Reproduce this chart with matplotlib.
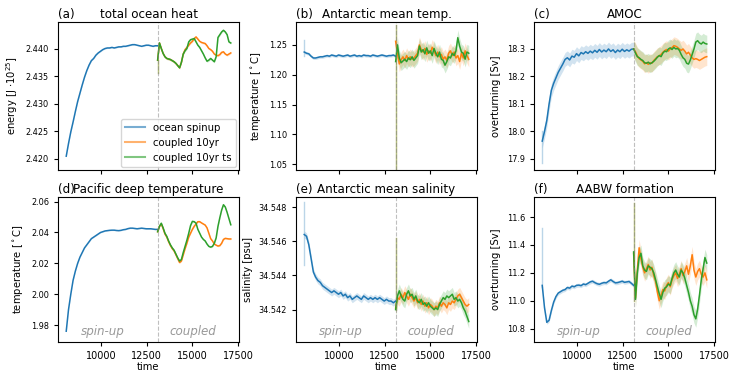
import numpy as np
import matplotlib
matplotlib.use("Agg")
import matplotlib.pyplot as plt
from matplotlib.lines import Line2D
import matplotlib.transforms as mtransforms

# spin-up runs from 8100 to 13100, coupled runs from 13100 to 17100
spin_start, spin_end = 8100, 13100
coup_start, coup_end = 13100, 17100

# (a) total ocean heat [J 1e25]
heat_spin = [2.4205, 2.4228, 2.4249, 2.4267, 2.4286, 2.4304, 2.4319, 2.4334, 2.4348, 2.4360,
             2.4370, 2.4378, 2.4382, 2.4388, 2.4392, 2.4395, 2.4398, 2.4400, 2.4401, 2.4401,
             2.4402, 2.4401, 2.4402, 2.4403, 2.4403, 2.4404, 2.4404, 2.4405, 2.4406, 2.4407,
             2.4407, 2.4406, 2.4405, 2.4404, 2.4405, 2.4406, 2.4406, 2.4405, 2.4404, 2.4405, 2.4405]
heat_10yr = [2.4379, 2.4410, 2.4400, 2.4391, 2.4385, 2.4382, 2.4381, 2.4380, 2.4378, 2.4376,
             2.4373, 2.4369, 2.4365, 2.4375, 2.4390, 2.4398, 2.4402, 2.4406, 2.4410, 2.4413,
             2.4418, 2.4421, 2.4417, 2.4413, 2.4411, 2.4410, 2.4409, 2.4405, 2.4400, 2.4398,
             2.4395, 2.4390, 2.4388, 2.4387, 2.4389, 2.4393, 2.4394, 2.4390, 2.4388, 2.4390, 2.4392]
heat_ts = [2.4379, 2.4410, 2.4400, 2.4391, 2.4385, 2.4382, 2.4381, 2.4380, 2.4378, 2.4376,
           2.4373, 2.4369, 2.4365, 2.4375, 2.4390, 2.4396, 2.4400, 2.4412, 2.4416, 2.4417,
           2.4418, 2.4412, 2.4406, 2.4402, 2.4396, 2.4390, 2.4383, 2.4377, 2.4379, 2.4382,
           2.4379, 2.4376, 2.4385, 2.4420, 2.4425, 2.4430, 2.4433, 2.4430, 2.4425, 2.4412, 2.4410]

# (b) Antarctic mean temperature [deg C]
atemp_spin = [1.238, 1.236, 1.235, 1.231, 1.228, 1.228, 1.229, 1.230, 1.230, 1.231,
              1.232, 1.231, 1.233, 1.232, 1.231, 1.233, 1.232, 1.231, 1.232, 1.233,
              1.231, 1.232, 1.233, 1.231, 1.232, 1.231, 1.233, 1.232, 1.232, 1.231,
              1.233, 1.232, 1.231, 1.232, 1.233, 1.232, 1.231, 1.232, 1.232, 1.233, 1.231]
atemp_10yr = [1.256, 1.235, 1.218, 1.225, 1.230, 1.224, 1.232, 1.226, 1.230, 1.226,
              1.228, 1.232, 1.236, 1.250, 1.242, 1.238, 1.244, 1.234, 1.240, 1.236,
              1.246, 1.240, 1.232, 1.238, 1.230, 1.234, 1.226, 1.230, 1.224, 1.236,
              1.240, 1.232, 1.238, 1.228, 1.232, 1.222, 1.236, 1.228, 1.240, 1.232, 1.226]
atemp_ts = [1.222, 1.250, 1.228, 1.220, 1.223, 1.226, 1.222, 1.228, 1.225, 1.230,
            1.224, 1.228, 1.232, 1.248, 1.238, 1.242, 1.235, 1.245, 1.236, 1.240,
            1.232, 1.244, 1.236, 1.230, 1.238, 1.226, 1.224, 1.216, 1.222, 1.230,
            1.228, 1.236, 1.232, 1.240, 1.262, 1.248, 1.238, 1.236, 1.226, 1.238, 1.236]

# (c) AMOC [Sv]
amoc_spin = [17.965, 18.000, 18.040, 18.100, 18.150, 18.175, 18.195, 18.215, 18.230, 18.245,
             18.262, 18.268, 18.260, 18.274, 18.270, 18.283, 18.275, 18.287, 18.282, 18.290,
             18.284, 18.292, 18.286, 18.295, 18.288, 18.298, 18.289, 18.296, 18.290, 18.300,
             18.291, 18.297, 18.287, 18.296, 18.290, 18.299, 18.291, 18.297, 18.292, 18.299, 18.300]
amoc_10yr = [18.300, 18.290, 18.275, 18.265, 18.260, 18.255, 18.246, 18.250, 18.244, 18.250,
             18.248, 18.258, 18.265, 18.272, 18.275, 18.280, 18.288, 18.294, 18.298, 18.292,
             18.300, 18.305, 18.312, 18.310, 18.306, 18.300, 18.295, 18.300, 18.292, 18.282,
             18.288, 18.278, 18.268, 18.262, 18.265, 18.262, 18.258, 18.262, 18.266, 18.270, 18.272]
amoc_ts = [18.300, 18.285, 18.272, 18.268, 18.262, 18.258, 18.250, 18.248, 18.252, 18.246,
           18.250, 18.255, 18.262, 18.270, 18.276, 18.272, 18.285, 18.292, 18.290, 18.300,
           18.304, 18.298, 18.306, 18.300, 18.302, 18.295, 18.280, 18.268, 18.262, 18.248,
           18.245, 18.260, 18.280, 18.300, 18.325, 18.330, 18.322, 18.318, 18.325, 18.320, 18.318]

# (d) Pacific deep temperature [deg C]
pac_spin = [1.976, 1.990, 2.000, 2.009, 2.015, 2.020, 2.024, 2.027, 2.030, 2.032,
            2.034, 2.036, 2.037, 2.038, 2.039, 2.040, 2.0405, 2.041, 2.0412, 2.0414,
            2.0415, 2.0415, 2.0413, 2.0412, 2.0414, 2.0418, 2.042, 2.0425, 2.0428, 2.0428,
            2.0426, 2.0424, 2.0426, 2.0428, 2.0426, 2.0424, 2.0424, 2.0424, 2.0422, 2.042, 2.042]
pac_10yr = [2.0405, 2.0440, 2.0455, 2.0425, 2.0390, 2.0370, 2.0340, 2.0315, 2.0295, 2.0280,
            2.0255, 2.0230, 2.0205, 2.0215, 2.0255, 2.0295, 2.0330, 2.0370, 2.0395, 2.0420,
            2.0440, 2.0455, 2.0470, 2.0470, 2.0462, 2.0455, 2.0448, 2.0430, 2.0395, 2.0360,
            2.0345, 2.0325, 2.0318, 2.0312, 2.0315, 2.0330, 2.0355, 2.0362, 2.0360, 2.0358, 2.0358]
pac_ts = [2.0405, 2.0440, 2.0460, 2.0430, 2.0395, 2.0375, 2.0345, 2.0320, 2.0300, 2.0285,
          2.0260, 2.0235, 2.0215, 2.0225, 2.0270, 2.0310, 2.0350, 2.0395, 2.0445, 2.0472,
          2.0470, 2.0460, 2.0420, 2.0395, 2.0370, 2.0355, 2.0345, 2.0325, 2.0310, 2.0305,
          2.0310, 2.0330, 2.0365, 2.0440, 2.0495, 2.0545, 2.0580, 2.0565, 2.0530, 2.0490, 2.0450]

# (e) Antarctic mean salinity [psu]
sal_spin = [34.5464, 34.5463, 34.5458, 34.5450, 34.5442, 34.5439, 34.5437, 34.5436, 34.5434, 34.5433,
            34.5432, 34.5431, 34.5430, 34.5431, 34.5430, 34.5429, 34.5430, 34.5428, 34.5429, 34.5427,
            34.5428, 34.5426, 34.5427, 34.5428, 34.5427, 34.5426, 34.5428, 34.5427, 34.5426, 34.5427,
            34.5426, 34.5427, 34.5426, 34.5427, 34.5426, 34.5425, 34.5426, 34.5425, 34.5425, 34.5424, 34.5425]
sal_10yr = [34.5421, 34.5427, 34.5426, 34.5429, 34.5427, 34.5430, 34.5428, 34.5426, 34.5429, 34.5427,
            34.5425, 34.5427, 34.5424, 34.5426, 34.5423, 34.5425, 34.5422, 34.5424, 34.5421, 34.5423,
            34.5422, 34.5420, 34.5422, 34.5421, 34.5424, 34.5422, 34.5424, 34.5423, 34.5421, 34.5424,
            34.5423, 34.5425, 34.5424, 34.5426, 34.5428, 34.5429, 34.5427, 34.5425, 34.5423, 34.5422, 34.5423]
sal_ts = [34.5420, 34.5428, 34.5431, 34.5428, 34.5426, 34.5425, 34.5429, 34.5431, 34.5428, 34.5429,
          34.5426, 34.5428, 34.5425, 34.5424, 34.5426, 34.5423, 34.5424, 34.5422, 34.5424, 34.5422,
          34.5421, 34.5420, 34.5421, 34.5420, 34.5423, 34.5425, 34.5427, 34.5426, 34.5428, 34.5427,
          34.5428, 34.5429, 34.5426, 34.5427, 34.5425, 34.5426, 34.5424, 34.5421, 34.5419, 34.5416, 34.5413]

# (f) AABW formation [Sv]
aabw_spin = [11.110, 10.950, 10.845, 10.860, 10.930, 10.990, 11.030, 11.055, 11.065, 11.075,
             11.080, 11.095, 11.090, 11.105, 11.100, 11.110, 11.112, 11.108, 11.120, 11.115,
             11.125, 11.135, 11.140, 11.130, 11.122, 11.118, 11.125, 11.130, 11.128, 11.140,
             11.150, 11.138, 11.128, 11.130, 11.135, 11.140, 11.132, 11.135, 11.138, 11.125, 11.110]
aabw_10yr = [11.340, 11.020, 11.220, 11.380, 11.300, 11.240, 11.200, 11.230, 11.260, 11.220,
             11.240, 11.180, 11.140, 11.060, 11.000, 11.040, 11.080, 11.070, 11.110, 11.130,
             11.100, 11.150, 11.180, 11.200, 11.160, 11.190, 11.230, 11.180, 11.210, 11.250,
             11.190, 11.250, 11.330, 11.220, 11.170, 11.210, 11.230, 11.190, 11.170, 11.200, 11.150]
aabw_ts = [11.350, 11.010, 11.200, 11.310, 11.340, 11.250, 11.220, 11.210, 11.250, 11.240,
           11.230, 11.200, 11.150, 11.100, 11.050, 11.010, 11.060, 11.090, 11.100, 11.120,
           11.110, 11.160, 11.200, 11.220, 11.190, 11.170, 11.220, 11.200, 11.160, 11.110,
           11.060, 11.000, 10.960, 10.900, 10.870, 10.940, 11.040, 11.150, 11.230, 11.310, 11.270]

# spread of the raw (unsmoothed) output around each curve: spinup, coupled
spread = {"a": (0.0001, 0.0002), "b": (0.0025, 0.013), "c": (0.025, 0.032),
          "d": (0.0003, 0.0005), "e": (0.0002, 0.0004), "f": (0.014, 0.06)}
# range of the first raw samples (start transients): spinup, coupled
spin_spike = {"b": (1.232, 1.258), "c": (17.885, 18.00), "e": (34.5446, 34.5483), "f": (11.10, 11.52)}
coup_spike = {"a": (2.4355, 2.4380), "b": (1.042, 1.284), "e": (34.5420, 34.5462), "f": (11.00, 11.70)}

titles = {"a": "total ocean heat", "b": "Antarctic mean temp.", "c": "AMOC",
          "d": "Pacific deep temperature", "e": "Antarctic mean salinity", "f": "AABW formation"}
ylabels = {"a": r"energy [J $\cdot 10^{25}$]", "b": r"temperature [$^\circ$C]", "c": "overturning [Sv]",
           "d": r"temperature [$^\circ$C]", "e": "salinity [psu]", "f": "overturning [Sv]"}
ylims = {"a": (2.4180, 2.4448), "b": (1.0404, 1.2883), "c": (17.860, 18.398),
         "d": (1.969, 2.063), "e": (34.5401, 34.5486), "f": (10.704, 11.744)}
data = {"a": (heat_spin, heat_10yr, heat_ts), "b": (atemp_spin, atemp_10yr, atemp_ts),
        "c": (amoc_spin, amoc_10yr, amoc_ts), "d": (pac_spin, pac_10yr, pac_ts),
        "e": (sal_spin, sal_10yr, sal_ts), "f": (aabw_spin, aabw_10yr, aabw_ts)}
ytick_fmt = {"a": "%.3f", "b": "%.2f", "c": "%.1f", "d": "%.2f", "e": "%.3f", "f": "%.1f"}

c_spin, c_10yr, c_ts = "#1f77b4", "#ff7f0e", "#2ca02c"

W, H = 732, 377
fig = plt.figure(figsize=(W / 100, H / 100), dpi=100)

col_left = [58, 296, 534]
rows = [(207, 148), (35, 145)]  # bottom, height in px

for i, key in enumerate("abcdef"):
    r, c = divmod(i, 3)
    bottom, height = rows[r]
    ax = fig.add_axes([col_left[c] / W, bottom / H, 181 / W, height / H])
    spin, c10, cts = data[key]
    t_spin = np.linspace(spin_start, spin_end, len(spin))
    t_10 = np.linspace(coup_start, coup_end, len(c10))
    t_ts = np.linspace(coup_start, coup_end, len(cts))
    s_sp, s_cp = spread[key]

    # light band = raw output, solid line = smoothed
    for t, v, col, s in [(t_spin, spin, c_spin, s_sp), (t_10, c10, c_10yr, s_cp), (t_ts, cts, c_ts, s_cp)]:
        v = np.asarray(v)
        ax.fill_between(t, v - s, v + s, color=col, alpha=0.2, lw=0)
    if key in spin_spike:
        ax.plot([spin_start, spin_start], spin_spike[key], color=c_spin, alpha=0.3, lw=1)
    if key in coup_spike:
        for col in (c_10yr, c_ts):
            ax.plot([coup_start, coup_start], coup_spike[key], color=col, alpha=0.35, lw=1)

    ax.plot(t_spin, spin, color=c_spin, lw=1.1)
    ax.plot(t_10, c10, color=c_10yr, lw=1.1)
    ax.plot(t_ts, cts, color=c_ts, lw=1.1)

    ax.axvline(coup_start, color="gray", ls="--", lw=0.8, alpha=0.5)

    ax.set_xlim(7650, 17550)
    ax.set_ylim(*ylims[key])
    ax.set_xticks([10000, 12500, 15000, 17500])
    ax.yaxis.set_major_formatter(matplotlib.ticker.FormatStrFormatter(ytick_fmt[key]))
    ax.tick_params(axis="x", labelsize=7.0, length=3)
    ax.tick_params(axis="y", labelsize=5.9, length=3)
    ax.set_ylabel(ylabels[key], fontsize=7.2)
    ax.set_title("(%s)" % key, loc="left", fontsize=8.6, pad=3)
    ax.set_title(titles[key], fontsize=8.6, pad=3)
    if r == 0:
        ax.set_xticklabels([])
    else:
        ax.set_xlabel("time", fontsize=7.2, labelpad=1)
        trans = mtransforms.blended_transform_factory(ax.transData, ax.transAxes)
        ax.text(10100, 0.05, "spin-up", transform=trans, ha="center", va="baseline",
                fontsize=8.6, style="italic", color="0.6")
        ax.text(15050, 0.05, "coupled", transform=trans, ha="center", va="baseline",
                fontsize=8.6, style="italic", color="0.6")

    if key == "a":
        handles = [Line2D([], [], color=c_spin, alpha=0.6, lw=1.5),
                   Line2D([], [], color=c_10yr, alpha=0.6, lw=1.5),
                   Line2D([], [], color=c_ts, alpha=0.6, lw=1.5)]
        ax.legend(handles, ["ocean spinup", "coupled 10yr", "coupled 10yr ts"],
                  loc="lower right", fontsize=7.3, handlelength=2.0, borderaxespad=0.3)

fig.savefig("out.png", dpi=100)
